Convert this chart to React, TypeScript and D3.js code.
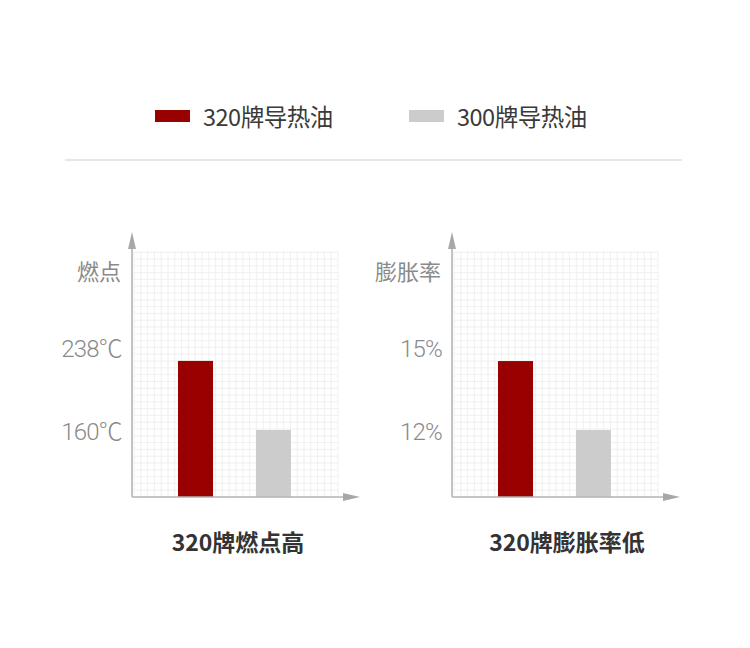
import React, { useEffect } from "react";
import * as d3 from "d3";

// legend / series
const seriesNames = ["320牌导热油", "300牌导热油"];
const seriesColors = ["#990000", "#cccccc"];

// left chart: ignition point
const flashValues = [238, 160];
const flashTicks = ["238℃", "160℃"];
const flashDomain = [84.3, 361];

// right chart: expansion rate
const expandValues = [15, 12];
const expandTicks = ["15%", "12%"];
const expandDomain = [9.09, 19.74];

const charts = [
  { x: 134, titleX: 238, axisLabel: "燃点", values: flashValues, ticks: flashTicks, domain: flashDomain, title: "320牌燃点高" },
  { x: 454, titleX: 567, axisLabel: "膨胀率", values: expandValues, ticks: expandTicks, domain: expandDomain, title: "320牌膨胀率低" },
];

const W = 750;
const H = 648;
const FONT = "'Noto Sans CJK SC', 'Noto Sans', sans-serif";
const LIGHT_FONT = "Roboto, 'Noto Sans CJK SC', sans-serif";

const GRID_W = 204;
const GRID_H = 245;
const BASE_Y = 497;
const CELL = 6.8;

type ChartProps = {
  x: number;
  titleX: number;
  axisLabel: string;
  values: number[];
  ticks: string[];
  domain: number[];
  title: string;
};

const MiniChart = ({ x, titleX, axisLabel, values, ticks, domain, title }: ChartProps) => {
  const y = d3.scaleLinear().domain(domain).range([BASE_Y, BASE_Y - GRID_H]);
  const xb = d3
    .scaleBand<number>()
    .domain(d3.range(values.length))
    .range([x + 44, x + 157])
    .paddingInner(0.551)
    .paddingOuter(0);
  const ax = x - 2;
  const cols = d3.range(0, Math.floor(GRID_W / CELL) + 1);
  const rows = d3.range(0, Math.floor(GRID_H / CELL) + 1);
  // tick label offsets, labels sit near the bar tops
  const tickDy = [-12, 2];

  return (
    <g>
      {/* grid */}
      <g stroke="#ececec" strokeWidth={0.8}>
        {cols.map(i => (
          <line key={"c" + i} x1={x + i * CELL} x2={x + i * CELL} y1={BASE_Y - GRID_H} y2={BASE_Y} />
        ))}
        {rows.map(i => (
          <line key={"r" + i} x1={x} x2={x + GRID_W} y1={BASE_Y - i * CELL} y2={BASE_Y - i * CELL} />
        ))}
      </g>

      {/* bars */}
      {values.map((v, i) => (
        <rect
          key={i}
          x={xb(i)}
          y={y(v)}
          width={xb.bandwidth()}
          height={BASE_Y - y(v)}
          fill={seriesColors[i]}
        />
      ))}

      {/* axes */}
      <line x1={ax} x2={ax} y1={BASE_Y} y2={246} stroke="#b4b4b4" strokeWidth={1.6} />
      <path d={`M${ax},232 L${ax - 4},249 L${ax + 4},249 Z`} fill="#a8a8a8" />
      <line x1={ax} x2={x + 212} y1={BASE_Y} y2={BASE_Y} stroke="#b4b4b4" strokeWidth={1.6} />
      <path d={`M${x + 226},${BASE_Y} L${x + 209},${BASE_Y - 4} L${x + 209},${BASE_Y + 4} Z`} fill="#a8a8a8" />

      {/* y labels */}
      <g fill="#8a8a8a" textAnchor="end">
        <text x={x - 13} y={270} dominantBaseline="central" fontFamily={FONT} fontSize={22}>
          {axisLabel}
        </text>
        {values.map((v, i) => (
          <text
            key={i}
            x={x - 12}
            y={y(v) + tickDy[i]}
            dominantBaseline="central"
            fontFamily={LIGHT_FONT}
            fontSize={24}
            fontWeight={300}
            letterSpacing={-0.8}
          >
            {ticks[i]}
          </text>
        ))}
      </g>

      {/* title */}
      <text
        x={titleX}
        y={541}
        textAnchor="middle"
        dominantBaseline="central"
        fontFamily={FONT}
        fontSize={23}
        fontWeight="bold"
        fill="#333"
      >
        {title}
      </text>
    </g>
  );
};

const App = () => {
  useEffect(() => {
    document.body.style.margin = "0";
  }, []);

  return (
    <svg width={W} height={H} style={{ display: "block", background: "#fff" }}>
      <defs>
        <radialGradient id="glow" cx="0.5" cy="0" r="0.5">
          <stop offset="0%" stopColor="#f8e4e4" />
          <stop offset="55%" stopColor="#fcf1f1" />
          <stop offset="100%" stopColor="#ffffff" />
        </radialGradient>
      </defs>
      <ellipse cx={405} cy={0} rx={280} ry={110} fill="url(#glow)" />

      {/* legend */}
      <g fontFamily={FONT} fontSize={23.5} fill="#3a3a3a">
        {seriesNames.map((name, i) => (
          <g key={name} transform={`translate(${155 + i * 254},110)`}>
            <rect width={35} height={12} fill={seriesColors[i]} />
            <text x={48} y={6} dominantBaseline="central" letterSpacing={-0.5}>
              {name}
            </text>
          </g>
        ))}
      </g>

      <line x1={65} x2={682} y1={160} y2={160} stroke="#cfcfcf" strokeWidth={1} />

      {charts.map(c => (
        <MiniChart key={c.title} {...c} />
      ))}
    </svg>
  );
};

export default App;
